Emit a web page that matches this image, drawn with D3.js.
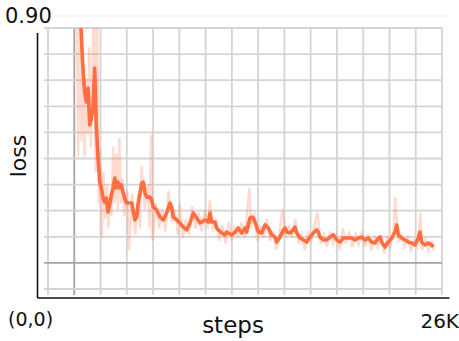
<!DOCTYPE html>
<html>
<head>
<meta charset="utf-8">
<script src="https://cdn.jsdelivr.net/npm/d3@7"></script>
<style>
    body { margin: 0; background: #fff; }
    text { font-family: "DejaVu Sans", sans-serif; fill: #111; }
</style>
</head>
<body>
<svg id="chart" width="459" height="341"></svg>
<script>
/* loss curve, steps in thousands */
const smoothSteps = [2.65, 2.78, 2.87, 2.97, 3.01, 3.11, 3.22, 3.33, 3.43, 3.53, 3.64, 3.74, 3.85, 3.96, 4.06, 4.17,
    4.27, 4.37, 4.48, 4.59, 4.69, 4.8, 4.91, 5.0, 5.11, 5.22, 5.32, 5.43, 5.53, 5.66, 5.76, 5.98, 6.18, 6.29, 6.39,
    6.5, 6.61, 6.71, 6.82, 6.92, 7.13, 7.24, 7.34, 7.55, 7.76, 7.97, 8.18, 8.39, 8.5, 8.6, 8.82, 9.02, 9.23, 9.45,
    9.66, 9.86, 10.08, 10.29, 10.39, 10.6, 10.81, 10.92, 11.02, 11.23, 11.34, 11.44, 11.66, 11.86, 11.97, 12.07,
    12.29, 12.5, 12.7, 12.92, 13.13, 13.23, 13.44, 13.55, 13.65, 13.76, 13.97, 14.18, 14.39, 14.6, 14.81, 15.02,
    15.13, 15.34, 15.54, 15.65, 15.76, 15.97, 16.17, 16.28, 16.39, 16.6, 16.81, 17.02, 17.23, 17.44, 17.65, 17.75,
    17.86, 18.07, 18.28, 18.49, 18.7, 18.91, 19.12, 19.33, 19.54, 19.86, 20.07, 20.28, 20.49, 20.7, 20.91, 21.12,
    21.33, 21.54, 21.65, 21.75, 21.96, 22.17, 22.38, 22.59, 22.7, 22.8, 23.01, 23.22, 23.43, 23.65, 23.85, 24.06,
    24.17, 24.27, 24.49, 24.69, 24.91, 25.01];
const smoothLoss = [0.95, 0.862, 0.759, 0.679, 0.657, 0.625, 0.669, 0.551, 0.573, 0.605, 0.733, 0.551, 0.445, 0.368,
    0.349, 0.317, 0.304, 0.317, 0.272, 0.295, 0.327, 0.349, 0.381, 0.349, 0.368, 0.349, 0.359, 0.336, 0.317, 0.301,
    0.301, 0.301, 0.247, 0.256, 0.301, 0.333, 0.365, 0.368, 0.333, 0.32, 0.32, 0.311, 0.288, 0.279, 0.256, 0.247,
    0.269, 0.301, 0.288, 0.256, 0.247, 0.237, 0.224, 0.215, 0.237, 0.269, 0.253, 0.237, 0.24, 0.247, 0.24, 0.269,
    0.24, 0.24, 0.221, 0.215, 0.205, 0.199, 0.208, 0.205, 0.199, 0.208, 0.221, 0.205, 0.221, 0.208, 0.253, 0.256,
    0.253, 0.24, 0.208, 0.205, 0.231, 0.221, 0.199, 0.192, 0.176, 0.192, 0.215, 0.221, 0.208, 0.205, 0.215, 0.224,
    0.205, 0.189, 0.183, 0.176, 0.192, 0.205, 0.215, 0.208, 0.192, 0.183, 0.183, 0.192, 0.199, 0.183, 0.176, 0.189,
    0.189, 0.189, 0.183, 0.189, 0.192, 0.183, 0.189, 0.176, 0.173, 0.189, 0.192, 0.176, 0.16, 0.176, 0.189, 0.208,
    0.231, 0.199, 0.189, 0.183, 0.176, 0.173, 0.167, 0.189, 0.208, 0.176, 0.167, 0.173, 0.167, 0.16];

const rawSteps = [2.5, 2.6, 2.7, 2.8, 2.9, 3.0, 3.1, 3.2, 3.3, 3.4, 3.5, 3.6, 3.7, 3.8, 3.9, 4.0, 4.1, 4.2, 4.3, 4.4,
    4.5, 4.6, 4.7, 4.8, 4.9, 5.0, 5.1, 5.2, 5.3, 5.4, 5.5, 5.7, 5.8, 6.0, 6.2, 6.4, 6.5, 6.6, 6.8, 7.0, 7.1, 7.2,
    7.3, 7.5, 7.7, 7.9, 8.1, 8.3, 8.5, 8.7, 8.9, 9.0, 9.2, 9.4, 9.6, 9.8, 10.0, 10.2, 10.4, 10.6, 10.8, 10.9, 11.1,
    11.3, 11.5, 11.7, 11.9, 12.1, 12.3, 12.5, 12.7, 12.9, 13.1, 13.4, 13.5, 13.7, 13.9, 14.1, 14.3, 14.5, 14.7,
    14.9, 15.1, 15.3, 15.5, 15.7, 15.9, 16.1, 16.3, 16.5, 16.7, 16.9, 17.1, 17.3, 17.6, 17.7, 17.9, 18.1, 18.3,
    18.5, 18.7, 18.9, 19.1, 19.3, 19.5, 19.7, 19.9, 20.1, 20.3, 20.5, 20.7, 20.9, 21.1, 21.3, 21.5, 21.7, 21.9,
    22.1, 22.3, 22.5, 22.6, 22.8, 23.0, 23.2, 23.4, 23.6, 23.8, 24.0, 24.2, 24.3, 24.5, 24.7, 24.9, 25.0];
const rawLoss = [0.95, 0.45, 0.95, 0.5, 0.78, 0.45, 0.7, 0.52, 0.8, 0.48, 0.75, 0.95, 0.4, 0.95, 0.3, 0.47, 0.19,
    0.4, 0.25, 0.36, 0.22, 0.33, 0.26, 0.48, 0.3, 0.46, 0.28, 0.51, 0.3, 0.38, 0.26, 0.34, 0.15, 0.33, 0.2, 0.33,
    0.22, 0.42, 0.28, 0.36, 0.22, 0.52, 0.18, 0.3, 0.22, 0.28, 0.21, 0.34, 0.24, 0.28, 0.2, 0.3, 0.19, 0.25, 0.2,
    0.29, 0.22, 0.27, 0.21, 0.28, 0.22, 0.31, 0.21, 0.25, 0.18, 0.23, 0.17, 0.24, 0.18, 0.23, 0.19, 0.24, 0.19,
    0.35, 0.22, 0.27, 0.18, 0.23, 0.19, 0.25, 0.18, 0.21, 0.15, 0.21, 0.28, 0.19, 0.23, 0.19, 0.25, 0.17, 0.2,
    0.15, 0.21, 0.18, 0.25, 0.27, 0.17, 0.2, 0.16, 0.21, 0.17, 0.2, 0.15, 0.22, 0.17, 0.21, 0.16, 0.2, 0.17, 0.21,
    0.16, 0.2, 0.15, 0.19, 0.16, 0.2, 0.14, 0.19, 0.16, 0.21, 0.32, 0.18, 0.2, 0.16, 0.19, 0.15, 0.18, 0.16, 0.27,
    0.15, 0.19, 0.15, 0.18, 0.15];

const gridCols = d3.range(16);
const gridRows = d3.range(11);
const darkCol = 1;
const darkRow = 9;

const svg = d3.select("#chart");

const x = d3.scaleLinear().domain([0, 26]).range([37, 449]);
const y = d3.scaleLinear().domain([0, 0.9]).range([297, 16]);
const gx = d3.scaleLinear().domain([0, 15]).range([48, 442]);
const gy = d3.scaleLinear().domain([0, 10]).range([28, 289]);

const defs = svg.append("defs");
defs.append("filter").attr("id", "soft")
    .append("feGaussianBlur").attr("stdDeviation", 0.75);
defs.append("filter").attr("id", "softer")
    .append("feGaussianBlur").attr("stdDeviation", 0.4);
defs.append("clipPath").attr("id", "plot")
    .append("rect").attr("x", 38).attr("y", 28).attr("width", 410).attr("height", 268);

// thin line next to the top value
svg.append("line")
    .attr("x1", 52).attr("x2", 447).attr("y1", y(0.9)).attr("y2", y(0.9))
    .attr("stroke", "#ececec").attr("stroke-width", 1);

// grid
const grid = svg.append("g").attr("filter", "url(#soft)");
grid.selectAll(".vline").data(gridCols).join("line")
    .attr("x1", d => gx(d)).attr("x2", d => gx(d))
    .attr("y1", gy(0)).attr("y2", 295)
    .attr("stroke", d => d === darkCol ? "#a4a4a4" : "#d4d4d4")
    .attr("stroke-width", 1.8);
grid.selectAll(".hline").data(gridRows).join("line")
    .attr("x1", 44).attr("x2", gx(15))
    .attr("y1", d => gy(d)).attr("y2", d => gy(d))
    .attr("stroke", d => d === darkRow ? "#a4a4a4" : "#d4d4d4")
    .attr("stroke-width", 1.8);

// curves
const line = d3.line().x(d => x(d[0])).y(d => y(d[1]));
const plot = svg.append("g").attr("clip-path", "url(#plot)");

plot.append("path")
    .datum(d3.zip(rawSteps, rawLoss))
    .attr("d", line)
    .attr("fill", "none")
    .attr("stroke", "#ff7043")
    .attr("stroke-opacity", 0.26)
    .attr("stroke-width", 2.4)
    .attr("filter", "url(#softer)");

plot.append("path")
    .datum(d3.zip(smoothSteps, smoothLoss))
    .attr("d", line)
    .attr("fill", "none")
    .attr("stroke", "#ff6d3f")
    .attr("stroke-width", 3.6)
    .attr("stroke-linejoin", "round")
    .attr("filter", "url(#softer)");

// axes
svg.append("g")
    .attr("transform", `translate(0,${y(0) + 0.5})`)
    .call(d3.axisBottom(x).tickValues([]).tickSizeOuter(0))
    .select(".domain").attr("stroke", "#111").attr("stroke-width", 1.6);
svg.append("line")
    .attr("x1", x(0) + 0.5).attr("x2", x(0) + 0.5)
    .attr("y1", 33).attr("y2", y(0) + 1)
    .attr("stroke", "#111").attr("stroke-width", 1.6);

// labels
svg.append("text").attr("x", 5).attr("y", 23).style("font-size", "21px").text("0.90");
svg.append("text").attr("x", 8).attr("y", 326).style("font-size", "19px").text("(0,0)");
svg.append("text").attr("x", 459).attr("y", 328).attr("text-anchor", "end")
    .style("font-size", "20px").text("26K");
svg.append("text").attr("x", 233).attr("y", 333).attr("text-anchor", "middle")
    .style("font-size", "23px").text("steps");
svg.append("text")
    .attr("transform", "translate(26,156) rotate(-90)")
    .attr("text-anchor", "middle")
    .style("font-size", "22px").text("loss");
</script>
</body>
</html>
